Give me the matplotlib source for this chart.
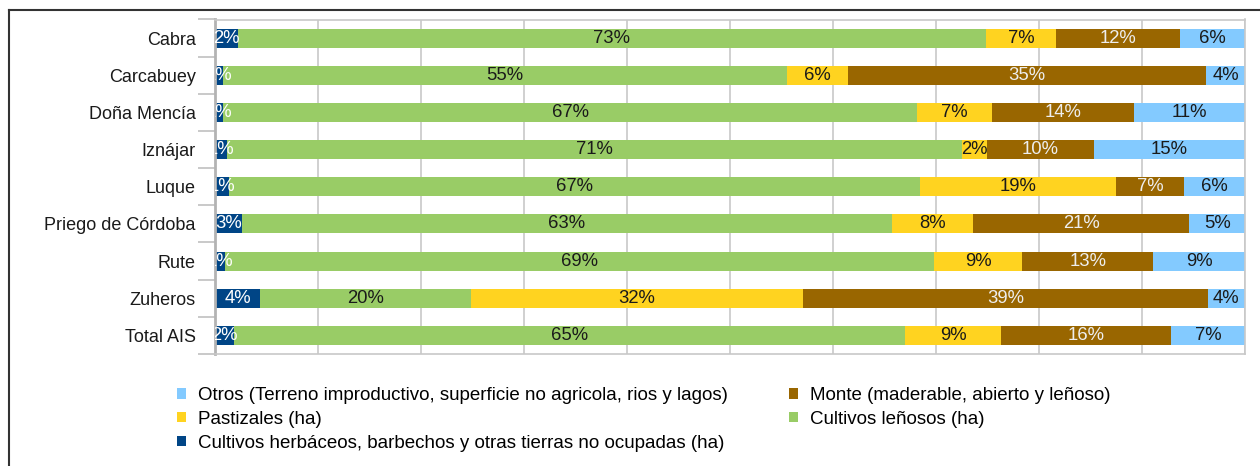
import numpy as np
import matplotlib.pyplot as plt
from matplotlib.lines import Line2D
from matplotlib.patches import Patch

plt.rcParams['font.family'] = ['Liberation Sans', 'DejaVu Sans']

# superficie por uso del suelo (% del total municipal)
municipios = ['Cabra', 'Carcabuey', 'Doña Mencía', 'Iznájar', 'Luque',
              'Priego de Córdoba', 'Rute', 'Zuheros', 'Total AIS']
herbaceos = [2.2, 0.8, 0.8, 1.2, 1.4, 2.6, 1.0, 4.4, 1.8]
lenosos = [72.6, 54.8, 67.4, 71.4, 67.0, 63.2, 68.7, 20.4, 65.1]
pastizales = [6.8, 5.9, 7.2, 2.4, 19.1, 7.9, 8.6, 32.2, 9.3]
monte = [12.0, 34.8, 13.8, 10.4, 6.6, 21.0, 12.7, 39.2, 16.4]
otros = [6.3, 3.8, 10.8, 14.7, 5.9, 5.4, 8.9, 3.6, 7.2]

series = [
    ('Cultivos herbáceos, barbechos y otras tierras no ocupadas (ha)', herbaceos, '#004586', 'white'),
    ('Cultivos leñosos (ha)', lenosos, '#99cc66', '#1a1a1a'),
    ('Pastizales (ha)', pastizales, '#ffd320', '#1a1a1a'),
    ('Monte (maderable, abierto y leñoso)', monte, '#996600', '#eeeeee'),
    ('Otros (Terreno improductivo, superficie no agricola, rios y lagos)', otros, '#83caff', '#1a1a1a'),
]

W, H = 1260, 466
fig = plt.figure(figsize=(W / 100, H / 100), dpi=100)
ax = fig.add_axes([215 / W, 1 - 354 / H, 1030 / W, (354 - 19.5) / H])

data = np.array([s[1] for s in series], dtype=float)
data = data / data.sum(axis=0) * 100
y = np.arange(len(municipios))
left = np.zeros(len(municipios))
for (name, _, col, tcol), vals in zip(series, data):
    ax.barh(y, vals, left=left, height=0.51, color=col, label=name, zorder=2)
    for yi, l, v in zip(y, left, vals):
        ax.text(l + v / 2, yi, '%d%%' % round(v), ha='center', va='center',
                fontsize=13.3, color=tcol, zorder=3, clip_on=True)
    left = left + vals

ax.set_xlim(0, 100)
ax.set_ylim(len(municipios) - 0.5, -0.5)
ax.set_xticks(np.arange(0, 101, 10))
ax.tick_params(axis='x', length=0, labelbottom=False)
ax.grid(axis='x', color='#c8c8c8', linewidth=1.2, zorder=0)
ax.set_yticks(y)
ax.set_yticklabels(municipios, fontsize=13, color='#1a1a1a')
ax.set_yticks(np.arange(-0.5, len(municipios), 1), minor=True)
ax.tick_params(axis='y', which='major', length=0, pad=14)
ax.tick_params(axis='y', which='minor', length=12, color='#c0c0c0', width=1.2)
for side in ['top', 'right', 'bottom']:
    ax.spines[side].set_color('#c8c8c8')
    ax.spines[side].set_linewidth(1.2)
ax.spines['left'].set_color('#b3b3b3')
ax.spines['left'].set_linewidth(2)

# marco exterior
fig.add_artist(Line2D([9 / W, 1.0], [1 - 10 / H] * 2, color='#333333', lw=1.5))
fig.add_artist(Line2D([9 / W] * 2, [0, 1 - 10 / H], color='#333333', lw=1.5))

order = [4, 2, 0, 3, 1]
handles = [Patch(facecolor=series[i][2]) for i in order]
labels = [series[i][0] for i in order]
fig.legend(handles, labels, loc='upper left', bbox_to_anchor=(177 / W, 1 - 387 / H),
           ncol=2, frameon=False, fontsize=13.5, borderpad=0, borderaxespad=0,
           handlelength=0.48, handleheight=0.48, handletextpad=0.62,
           labelspacing=0.36, columnspacing=3.3)

fig.savefig('out.png', dpi=100)
